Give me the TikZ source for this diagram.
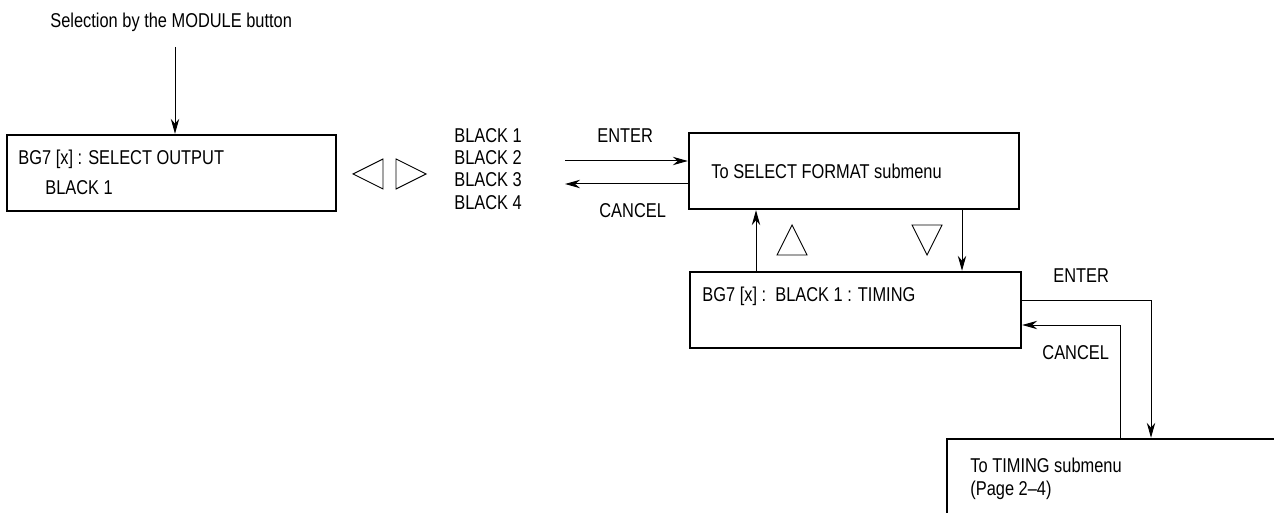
\documentclass[tikz,border=0pt]{standalone}
\usepackage{fontspec}
\setmainfont{Liberation Sans}[FakeStretch=0.82]
\usetikzlibrary{arrows.meta}
\begin{document}
\begin{tikzpicture}[x=0.5pt,y=-0.5pt,
  menubox/.style={draw,line width=1.2pt,inner sep=0pt,minimum width=#1},
  lbl/.style={anchor=base west,inner sep=0pt,font=\fontsize{10pt}{12pt}\selectfont},
  arr/.style={line width=0.5pt,-{Stealth[length=7.5pt,width=4.2pt]}},
  tri/.style={line width=0.45pt}]
\useasboundingbox (0,0) rectangle (1274,513);
% boxes
\node[menubox=164.5pt,minimum height=38pt] (b1) at (171.5,173) {};
\node[menubox=165pt,minimum height=38pt] (b2) at (854,171) {};
\node[menubox=165.5pt,minimum height=38pt] (b3) at (855.5,310) {};
\node[menubox=171.5pt,minimum height=40.5pt] (b4) at (1118.5,479.5) {};
% texts
\node[lbl] (top) at (50,28) {Selection by the MODULE button};
\node[lbl] (b1a) at (18,165) {BG7 [x] : SELECT OUTPUT};
\node[lbl] (b1b) at (45,195) {BLACK 1};
\node[lbl] (bk1) at (454,143) {BLACK 1};
\node[lbl] (bk2) at (454,165) {BLACK 2};
\node[lbl] (bk3) at (454,187) {BLACK 3};
\node[lbl] (bk4) at (454,210) {BLACK 4};
\node[lbl] (en1) at (597,143) {ENTER};
\node[lbl] (ca1) at (599,218) {CANCEL};
\node[lbl] (b2t) at (711,179) {To SELECT FORMAT submenu};
\node[lbl] (b3t) at (702,301) {BG7 [x] :\ \ BLACK 1 : TIMING};
\node[lbl] (en2) at (1053,283) {ENTER};
\node[lbl] (ca2) at (1042,359) {CANCEL};
\node[lbl] (b4a) at (970,472) {To TIMING submenu};
\node[lbl] (b4b) at (970,495) {(Page 2--4)};
% triangles
\draw[tri] (383,159) -- (353,174) -- (383,189) -- cycle;
\draw[tri] (396,159) -- (426,174) -- (396,189) -- cycle;
\draw[tri] (777,255) -- (792,225) -- (807,255) -- cycle;
\draw[tri] (912,225) -- (942,225) -- (927,255) -- cycle;
% connectors
\coordinate (tp) at (175,47);
\draw[arr] (tp) -- (tp |- b1.north);
\coordinate (e1) at (565,161);
\draw[arr] (e1) -- (e1 -| b2.west);
\coordinate (c1) at (565,184);
\draw[arr] (c1 -| b2.west) -- (c1);
\coordinate (up) at (756,0);
\draw[arr] (up |- b3.north) -- (up |- b2.south);
\coordinate (dn) at (962,0);
\draw[arr] (dn |- b2.south) -- (dn |- b3.north);
\coordinate (e2) at (1151,301);
\draw[arr] (e2 -| b3.east) -- (e2) -- (e2 |- b4.north);
\coordinate (c2) at (1120,325);
\draw[arr] (c2 |- b4.north) -- (c2) -- (c2 -| b3.east);
\end{tikzpicture}
\end{document}
